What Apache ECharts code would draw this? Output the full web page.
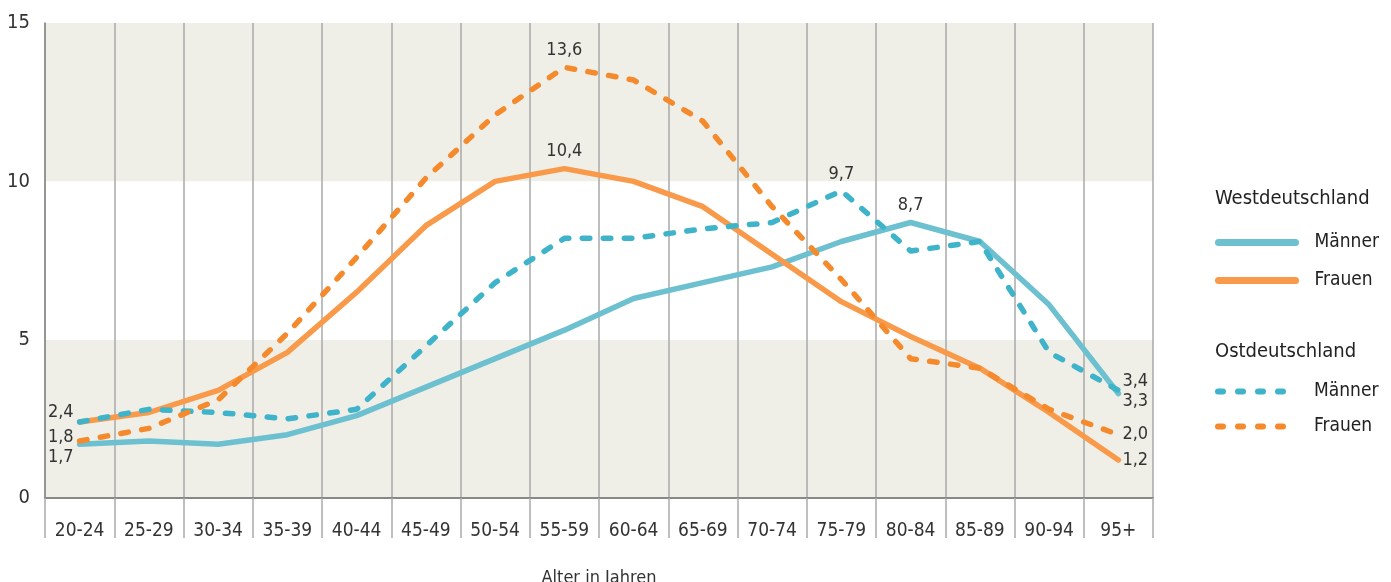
<!DOCTYPE html>
<html>
<head>
<meta charset="utf-8">
<script src="https://cdn.jsdelivr.net/npm/echarts@6/dist/echarts.min.js"></script>
<style>
html,body{margin:0;padding:0;background:#fff;overflow:hidden;}
#c{width:1391px;height:582px;}
</style>
</head>
<body>
<div id="c"></div>
<script>
var categories = ['20-24','25-29','30-34','35-39','40-44','45-49','50-54','55-59','60-64','65-69','70-74','75-79','80-84','85-89','90-94','95+'];
var westMaenner = [1.7,1.8,1.7,2.0,2.6,3.5,4.4,5.3,6.3,6.8,7.3,8.1,8.7,8.1,6.1,3.3];
var westFrauen  = [2.4,2.7,3.4,4.6,6.5,8.6,10.0,10.4,10.0,9.2,7.7,6.2,5.1,4.1,2.7,1.2];
var ostMaenner  = [2.4,2.8,2.7,2.5,2.8,4.8,6.8,8.2,8.2,8.5,8.7,9.7,7.8,8.1,4.6,3.4];
var ostFrauen   = [1.8,2.2,3.1,5.2,7.6,10.1,12.1,13.6,13.2,11.9,9.2,6.9,4.4,4.1,2.8,2.0];
var yTicks = [0,5,10,15];

var FONT = "'Liberation Sans Narrow','DejaVu Sans Condensed','Roboto Condensed',Roboto,sans-serif";
var fmt = function(v){ return v.toFixed(1).replace('.', ','); };

function withLabels(values, labelSpec){
  return values.map(function(v, i){
    var spec = labelSpec[i];
    if (!spec) return v;
    return {
      value: v,
      label: Object.assign({
        show: true,
        formatter: function(p){ return fmt(p.value); },
        color: '#333',
        fontSize: 18,
        fontFamily: FONT
      }, spec)
    };
  });
}

var teal = '#6cc0d0', tealD = '#3fb3c9', orange = '#f89a4a', orangeD = '#f58a2c';
var dashed = {type: [7.5, 13.5], cap: 'round'};

function lineSeries(name, values, color, lineStyle, z, labels){
  return {
    name: name, type: 'line', z: z,
    symbol: 'circle', symbolSize: 0.01, showSymbol: true,
    lineStyle: Object.assign({color: color, width: 5.5, join: 'round'}, lineStyle),
    itemStyle: {color: color},
    emphasis: {disabled: true},
    data: withLabels(values, labels)
  };
}

var option = {
  animation: false,
  backgroundColor: '#fff',
  textStyle: {fontFamily: FONT},
  grid: {left: 45, right: 238, top: 23, bottom: 84, containLabel: false, outerBoundsMode: 'none'},
  title: [
    {text: 'Westdeutschland', left: 1215, top: 189, padding: 0,
     textStyle: {fontSize: 20, fontWeight: 'normal', color: '#222', fontFamily: FONT}},
    {text: 'Ostdeutschland', left: 1215, top: 342, padding: 0,
     textStyle: {fontSize: 20, fontWeight: 'normal', color: '#222', fontFamily: FONT}}
  ],
  legend: [
    {orient: 'vertical', left: 1215, top: 233, itemWidth: 77, itemHeight: 14, itemGap: 19,
     padding: 0, selectedMode: false,
     data: ['Westdeutschland Männer', 'Westdeutschland Frauen'],
     formatter: function(n){ return n.split(' ')[1]; },
     itemStyle: {opacity: 0, borderWidth: 0},
     lineStyle: {width: 7, cap: 'round'},
     textStyle: {fontSize: 19, color: '#222', fontFamily: FONT, padding: [0,0,0,14]}},
    {orient: 'vertical', left: 1215, top: 382, itemWidth: 77, itemHeight: 14, itemGap: 16,
     padding: 0, selectedMode: false,
     data: ['Ostdeutschland Männer', 'Ostdeutschland Frauen'],
     formatter: function(n){ return n.split(' ')[1]; },
     itemStyle: {opacity: 0, borderWidth: 0},
     lineStyle: {width: 6, type: [5, 15], cap: 'round'},
     textStyle: {fontSize: 19, color: '#222', fontFamily: FONT, padding: [0,0,0,14]}}
  ],
  xAxis: {
    type: 'category',
    data: categories,
    boundaryGap: true,
    name: 'Alter in Jahren',
    nameLocation: 'middle',
    nameGap: 71,
    nameTextStyle: {fontSize: 18, color: '#333', fontFamily: FONT},
    axisLine: {show: true, lineStyle: {color: '#888', width: 2}},
    axisTick: {show: true, length: 40, interval: 0, lineStyle: {color: '#aaa', width: 1.5}},
    axisLabel: {fontSize: 19, color: '#333', margin: 24, interval: 0, fontFamily: FONT},
    splitLine: {show: true, interval: 0, lineStyle: {color: '#a8a8a8', width: 1.5}}
  },
  yAxis: {
    type: 'value',
    min: yTicks[0], max: yTicks[yTicks.length - 1], interval: 5,
    axisLine: {show: true, lineStyle: {color: '#888', width: 1.5}},
    axisTick: {show: false},
    axisLabel: {fontSize: 20, color: '#333', margin: 15, fontFamily: FONT},
    splitLine: {show: false},
    splitArea: {show: true, areaStyle: {color: ['#efefe7', '#ffffff']}}
  },
  series: [
    lineSeries('Westdeutschland Männer', westMaenner, teal, {cap: 'round'}, 2, {
      0: {position: 'left', offset: [0, 13], distance: 6},
      12: {position: 'top', distance: 8},
      15: {position: 'right', offset: [0, 8], distance: 4}
    }),
    lineSeries('Westdeutschland Frauen', westFrauen, orange, {cap: 'round'}, 2, {
      0: {position: 'left', offset: [0, -10], distance: 6},
      7: {position: 'top', distance: 8},
      15: {position: 'right', distance: 4}
    }),
    lineSeries('Ostdeutschland Männer', ostMaenner, tealD, dashed, 3, {
      11: {position: 'top', distance: 8},
      15: {position: 'right', offset: [0, -9], distance: 4}
    }),
    lineSeries('Ostdeutschland Frauen', ostFrauen, orangeD, dashed, 3, {
      0: {position: 'left', offset: [0, -4], distance: 6},
      7: {position: 'top', distance: 8},
      15: {position: 'right', distance: 4}
    })
  ]
};

var chart = echarts.init(document.getElementById('c'));
chart.setOption(option);
</script>
</body>
</html>
